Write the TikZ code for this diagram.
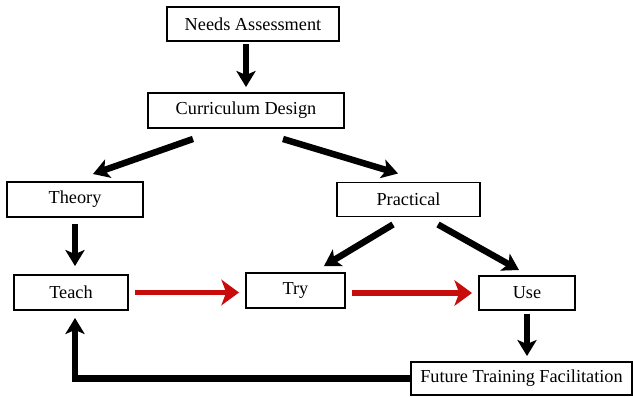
\documentclass[tikz,border=0pt]{standalone}
\usepackage{fontspec}
\setmainfont{Liberation Serif}
\usetikzlibrary{arrows.meta,calc}
\definecolor{ink}{RGB}{0,0,0}
\definecolor{signal}{RGB}{200,12,12}
\tikzset{
  box/.style={draw=ink,line width=1.4pt,fill=white,inner sep=0pt,
    minimum width=#1,minimum height=8.75mm,align=center,
    font=\fontsize{13}{15}\selectfont},
  box/.default=30mm,
  flow/.style={-{Stealth[length=4mm,width=4.8mm,inset=1mm]},line width=4.6pt,draw=#1},
  flow/.default=ink,
  relay/.style={-{Stealth[length=4.4mm,width=6.4mm,inset=1.2mm]},line width=4.2pt,draw=#1,
    shorten <=1.5mm,shorten >=1.5mm},
  relay/.default=signal,
}

\begin{document}
\begin{tikzpicture}
  \useasboundingbox (0,0) rectangle (15.825,9.9);
  \node[box=43mm,minimum height=8.5mm] (na) at (6.325,9.3) {Needs Assessment};
  \node[box=49mm] (cd) at (6.15,7.1375) {Curriculum Design};
  \node[box=34mm] (th) at (1.875,4.9125) {Theory};
  \node[box=35.75mm,minimum height=8.5mm] (pr) at (10.2125,4.9125) {Practical};
  \node[box=28.5mm] (te) at (1.775,2.5875) {Teach};
  \node[box=24.75mm] (tr) at (7.3875,2.6375) {Try};
  \node[box=24mm,minimum height=8.5mm] (us) at (13.175,2.575) {Use};
  \node[box=55.25mm,minimum height=8.25mm] (ft) at (13.0375,0.4375) {Future Training Facilitation};
  \draw[flow,shorten <=0.5mm,shorten >=1.25mm] (na.south -| cd.north) -- (cd.north);
  \draw[flow] ($(cd.south)+(-1.325,-0.25)$) -- ($(th.north)+(0.45,0.175)$);
  \draw[flow] ($(cd.south)+(0.925,-0.25)$) -- ($(pr.north)+(-0.2625,0.2)$);
  \draw[flow,shorten <=1.5mm,shorten >=2mm] (th.south) -- (th.south |- te.north);
  \draw[flow] ($(pr.south)+(-0.3875,-0.175)$) -- ($(tr.north)+(0.7125,0.15)$);
  \draw[flow] ($(pr.south)+(0.7375,-0.175)$) -- ($(us.north)+(-0.2,0.125)$);
  \draw[relay] (te.east) -- (te.east -| tr.west);
  \draw[relay] (tr.east |- us.west) -- (us.west);
  \draw[flow,shorten <=0.75mm,shorten >=1.25mm] (us.south) -- (us.south |- ft.north);
  \draw[flow,shorten >=1.75mm] (ft.west) -| ([xshift=1mm]te.south);
\end{tikzpicture}
\end{document}
